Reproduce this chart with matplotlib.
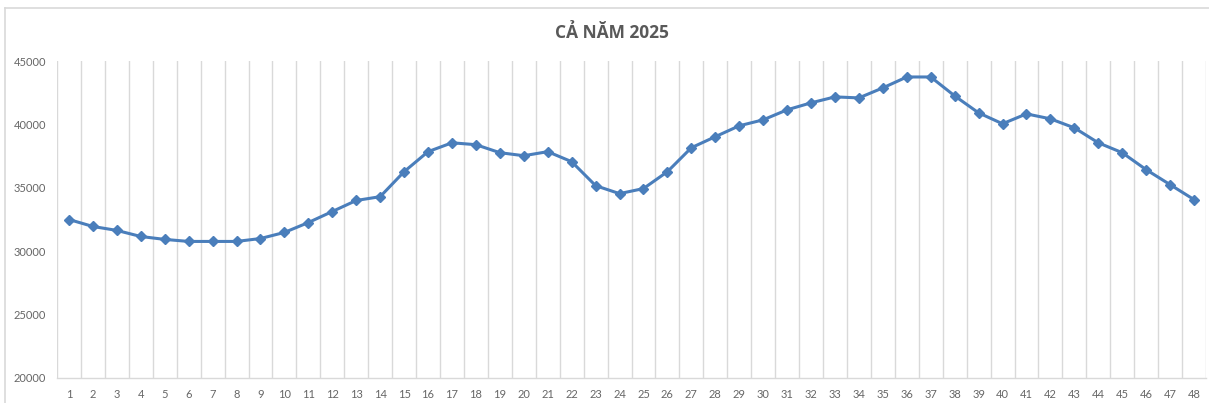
import numpy as np
import matplotlib
matplotlib.use("Agg")
from matplotlib import pyplot as plt
from matplotlib.lines import Line2D

# data
periods = list(range(1, 49))
values = [32500, 31950, 31640, 31160, 30930, 30770, 30770, 30770,
          31000, 31480, 32260, 33130, 34000, 34300, 36270, 37850,
          38550, 38400, 37770, 37530, 37850, 37060, 35170, 34540,
          34940, 36270, 38160, 39030, 39890, 40360, 41150, 41700,
          42170, 42090, 42880, 43740, 43740, 42250, 40910, 40050,
          40830, 40440, 39730, 38550, 37770, 36430, 35250, 34070]
y_ticks = [20000, 25000, 30000, 35000, 40000, 45000]
title = "CẢ NĂM 2025"

W, H = 1209, 403
fig = plt.figure(figsize=(W / 100, H / 100), dpi=100)
plt.rcParams['font.family'] = ['Lato', 'DejaVu Sans']

# chart border (left and top visible)
fig.add_artist(Line2D([5 / W, 5 / W], [0, 1 - 8 / H], color="#d9d9d9", lw=1.2))
fig.add_artist(Line2D([5 / W, 1], [1 - 8 / H, 1 - 8 / H], color="#d9d9d9", lw=1.2))

ax = fig.add_axes([57 / W, 1 - 378 / H, (1206 - 57) / W, (378 - 61) / H])
ax.plot(periods, values, color="#4a7ebb", lw=2.2, marker="D", ms=4.6,
        markerfacecolor="#4a7ebb", markeredgecolor="#4a7ebb", zorder=3)

ax.set_xlim(0.5, 48.5)
ax.set_ylim(20000, 45000)
ax.set_xticks(periods)
ax.set_xticklabels([str(p) for p in periods])
ax.set_xticks(np.arange(0.5, 49, 1), minor=True)
ax.grid(which="minor", axis="x", color="#d9d9d9", lw=1)
ax.set_yticks(y_ticks)
ax.set_yticklabels([str(v) for v in y_ticks])

for s in ["top", "right", "left"]:
    ax.spines[s].set_visible(False)
ax.spines["bottom"].set_color("#d9d9d9")
ax.spines["bottom"].set_linewidth(1)
ax.tick_params(which="both", length=0)
ax.tick_params(axis="x", labelsize=8, colors="#666666", pad=8)
ax.tick_params(axis="y", labelsize=8, colors="#666666", pad=8)

fig.text(612 / W, 1 - 33 / H, title, ha="center", va="center",
         fontsize=12.5, fontweight="bold", color="#595959",
         family=["Open Sans", "DejaVu Sans"])

fig.savefig("out.png", dpi=100)
